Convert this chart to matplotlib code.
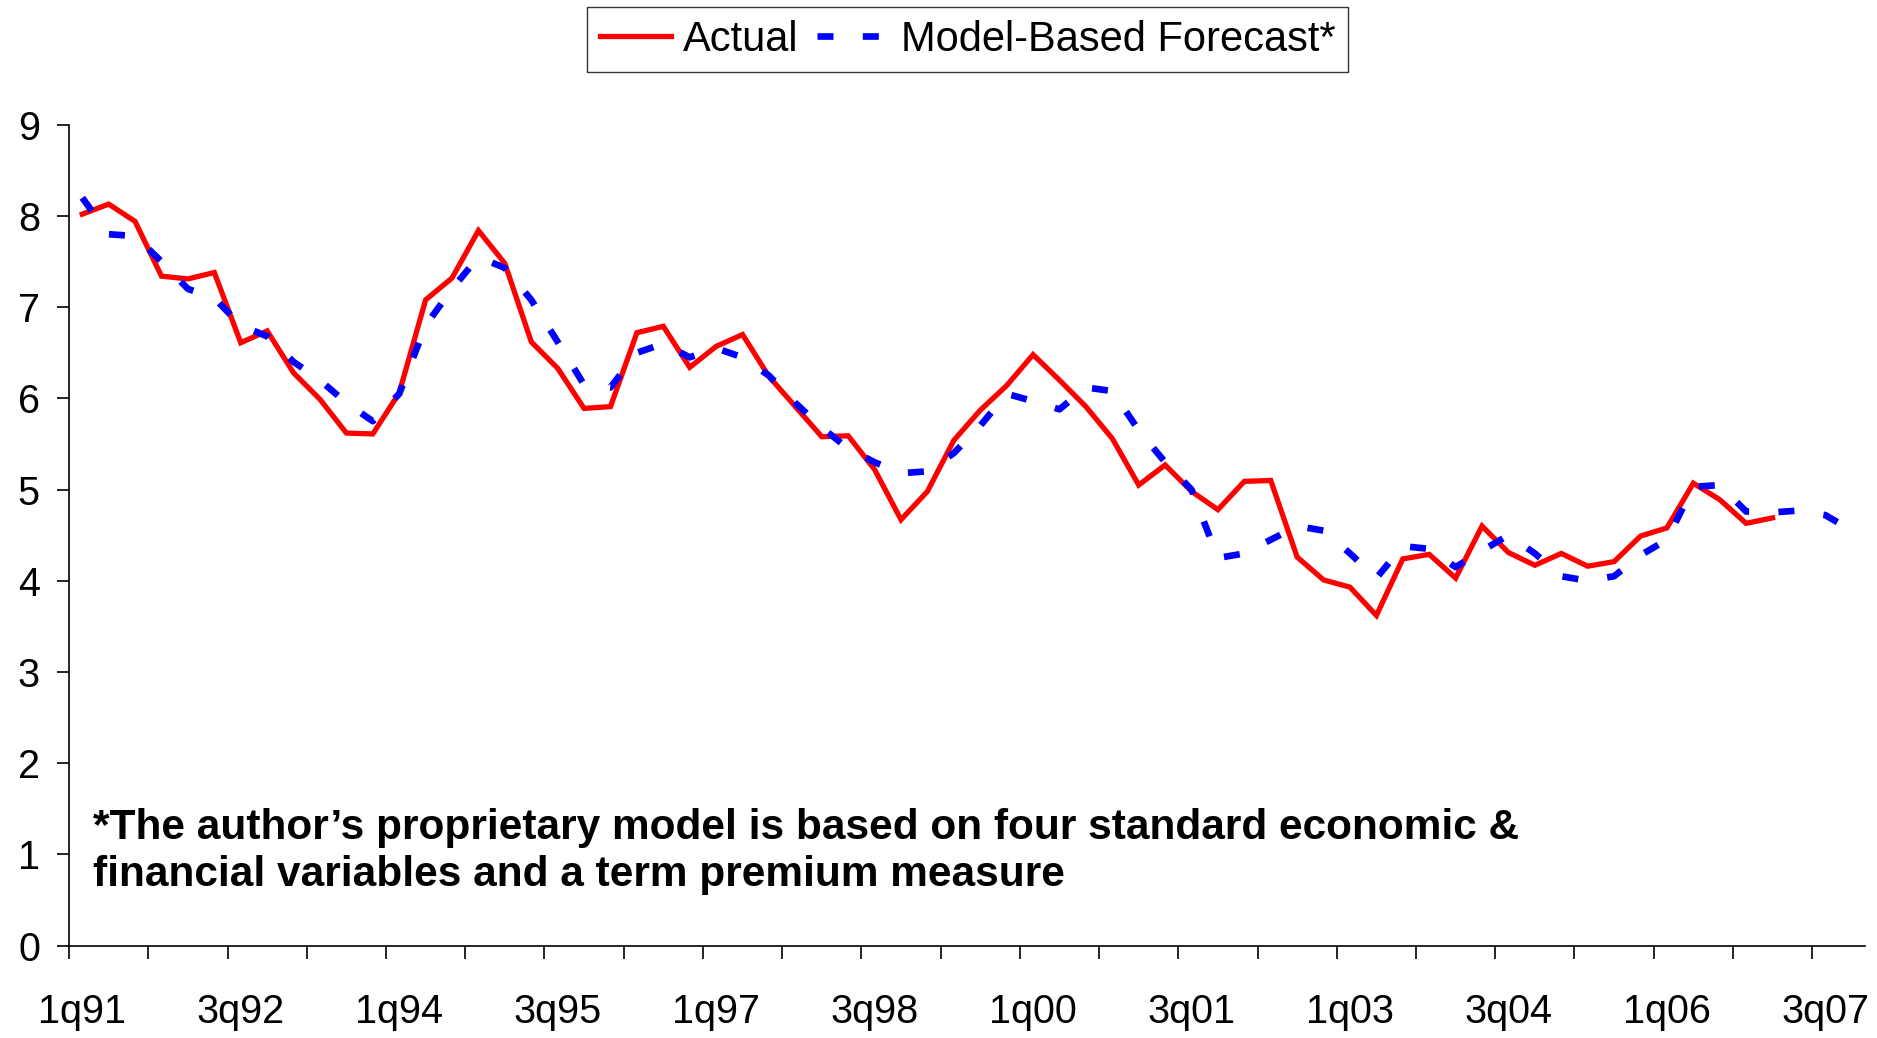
import numpy as np
import matplotlib.pyplot as plt

# ============================================================
# 1. data
# ============================================================

years = [91, 92, 93, 94, 95, 96, 97, 98, 99, 0, 1, 2, 3, 4, 5, 6, 7]

quarters = [f"{q}q{y:02d}" for y in years for q in (1, 2, 3, 4)]

actual = [
    8.02, 8.13, 7.94, 7.34, 7.31, 7.38, 6.61, 6.74, 6.28, 5.99,
    5.62, 5.61, 6.06, 7.08, 7.32, 7.84, 7.48, 6.62, 6.33, 5.89,
    5.91, 6.72, 6.79, 6.34, 6.57, 6.70, 6.24, 5.91, 5.58, 5.59,
    5.22, 4.67, 4.98, 5.54, 5.87, 6.14, 6.48, 6.20, 5.91, 5.56,
    5.05, 5.27, 4.98, 4.78, 5.09, 5.10, 4.26, 4.01, 3.93, 3.62,
    4.24, 4.29, 4.03, 4.60, 4.31, 4.17, 4.30, 4.16, 4.21, 4.49,
    4.58, 5.07, 4.89, 4.63, 4.69,
]

forecast = [
    8.20, 7.80, 7.78, 7.50, 7.20, 7.10, 6.80, 6.68, 6.40, 6.20,
    5.95, 5.75, 6.05, 6.80, 7.20, 7.55, 7.43, 7.08, 6.62, 6.15,
    6.12, 6.50, 6.60, 6.45, 6.55, 6.45, 6.25, 5.95, 5.68, 5.45,
    5.30, 5.18, 5.20, 5.40, 5.70, 6.05, 5.97, 5.88, 6.12, 6.08,
    5.65, 5.30, 5.00, 4.25, 4.30, 4.45, 4.60, 4.55, 4.30, 4.03,
    4.38, 4.35, 4.15, 4.33, 4.50, 4.30, 4.05, 4.00, 4.05, 4.28,
    4.45, 5.03, 5.05, 4.76, 4.75, 4.77, 4.72, 4.55,
]

tick_labels = ["1q91", "3q92", "1q94", "3q95", "1q97", "3q98",
               "1q00", "3q01", "1q03", "3q04", "1q06", "3q07"]

note = ("*The author\u2019s proprietary model is based on four standard economic &\n"
        "financial variables and a term premium measure")

# ============================================================
# 2. figure
# ============================================================

plt.rcParams['font.family'] = ['Liberation Sans', 'DejaVu Sans']

fig = plt.figure(figsize=(18.77, 10.38), dpi=100)
ax = fig.add_axes([0.0368, 0.089, 0.9568, 0.7908])

x_act = np.arange(len(actual))
x_fc = np.arange(len(forecast))

ax.plot(x_act, actual, color="#ff0000", linewidth=3.8,
        solid_joinstyle="miter", label="Actual")

ax.plot(x_fc, forecast, color="#0000ff", linewidth=4.8,
        dashes=(2.4, 4.4), dash_capstyle="butt",
        label="Model-Based Forecast*")

# ============================================================
# axes
# ============================================================

ax.set_xlim(-0.5, len(quarters) - 0.5)
ax.set_ylim(0, 9)

ax.set_yticks(range(0, 10))
ax.tick_params(axis="y", direction="out", length=9, width=1.2,
               labelsize=28.5, pad=12)

# tick marks between categories, labels on categories
ax.set_xticks(np.arange(-0.5, len(quarters) - 1, 3))
ax.set_xticklabels([])
ax.set_xticks([quarters.index(t) for t in tick_labels], minor=True)
ax.set_xticklabels(tick_labels, minor=True)
ax.tick_params(axis="x", which="major", direction="out", length=9, width=1.2)
ax.tick_params(axis="x", which="minor", length=0, labelsize=28.5, pad=34)

for side in ["top", "right"]:
    ax.spines[side].set_visible(False)
for side in ["left", "bottom"]:
    ax.spines[side].set_linewidth(1.2)

# ============================================================
# legend + note
# ============================================================

fig.legend(
    loc="upper center",
    bbox_to_anchor=(0.5155, 0.993),
    ncol=2,
    fontsize=30,
    frameon=True,
    fancybox=False,
    edgecolor="black",
    handlelength=1.7,
    handletextpad=0.3,
    columnspacing=0.45,
    borderpad=0.3,
    borderaxespad=0.0,
)
fig.legends[0].get_frame().set_linewidth(1.0)

ax.text(0.0134, 1.03, note, transform=ax.get_yaxis_transform(),
        fontsize=30.5, fontweight="bold", va="center", ha="left",
        linespacing=1.22)

# ============================================================
# save
# ============================================================

fig.savefig("out.png", dpi=100)
